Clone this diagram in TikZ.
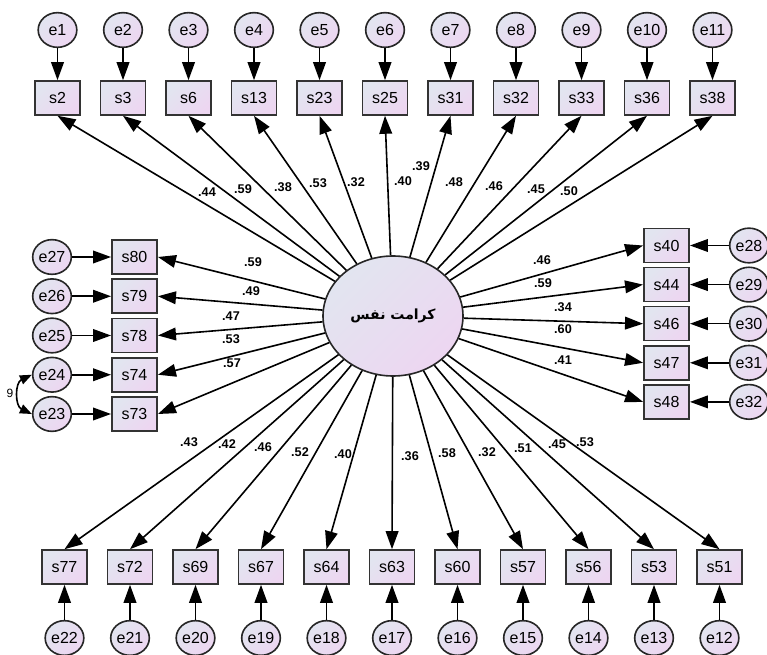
\documentclass[tikz,border=0pt]{standalone}
\usepackage{fontspec}
\setmainfont{Liberation Sans}
\newfontfamily\arabicfont[Script=Arabic]{DejaVu Sans}
\TeXXeTstate=1
\usetikzlibrary{arrows.meta,shapes.geometric}

\definecolor{shadeA}{RGB}{226,229,240}
\definecolor{shadeB}{RGB}{237,214,241}
\tikzset{
	obs/.style={draw=black!80, line width=1.2pt, minimum width=34pt, minimum height=25.5pt, inner sep=0pt,
		top color=shadeA, bottom color=shadeB, shading angle=45, font=\fontsize{12}{14}\selectfont},
	err/.style={ellipse, draw=black!85, line width=1.2pt, minimum width=29pt, minimum height=26pt, inner sep=0pt,
		top color=shadeA, bottom color=shadeB, shading angle=45, font=\fontsize{12}{14}\selectfont},
	lat/.style={ellipse, draw=black!85, line width=1.2pt, minimum width=105pt, minimum height=90pt,
		top color=shadeA, bottom color=shadeB, shading angle=45},
	path/.style={-{Triangle[length=13.5pt,width=9.5pt]}, line width=1.2pt},
	cov/.style={{Triangle[length=9pt,width=7pt]}-{Triangle[length=9pt,width=7pt]}, line width=1.2pt},
	lbl/.style={font=\fontsize{9.5}{11}\selectfont\bfseries, inner sep=0pt},
}

\begin{document}
\begin{tikzpicture}[x=0.75pt, y=-0.75pt]
		%%%%% START %%%%%
		\useasboundingbox (0,0) rectangle (767,655);
		
		\node[lat] (self) at (393,316) {\arabicfont\bfseries\fontsize{10.5}{12}\selectfont\beginR كرامت نفس\endR};
		
		% top row
		\foreach \s/\e/\v/\lx/\ly [count=\i from 0] in {s2/e1/.44/207/192, s3/e2/.59/243/189, s6/e3/.38/283/187,
			s13/e4/.53/318/183, s23/e5/.32/356/182, s25/e6/.40/403/181, s31/e7/.39/421/166, s32/e8/.48/454/182,
			s33/e9/.46/494/186, s36/e10/.45/536/189, s38/e11/.50/569/191}{
			\node[obs] (\s) at ({57.5+65.5*\i},98) {\s};
			\node[err] (\e) at ({57.5+65.5*\i},30) {\e};
			\draw[path] (\e) -- (\s);
			\draw[path] (self) -- (\s.south);
			\node[lbl] at (\lx,\ly) {\v};
		}
		
		% bottom row
		\foreach \s/\e/\v/\lx/\ly [count=\i from 0] in {s77/e22/.43/189/442, s72/e21/.42/227/444, s69/e20/.46/263/447,
			s67/e19/.52/300/452, s64/e18/.40/343/454, s63/e17/.36/410/456, s60/e16/.58/447/453, s57/e15/.32/487/452,
			s56/e14/.51/523/448, s53/e13/.45/557/444, s51/e12/.53/585/442}{
			\node[obs] (\s) at ({64.5+65.5*\i},567) {\s};
			\node[err] (\e) at ({64.5+65.5*\i},638) {\e};
			\draw[path] (\e) -- (\s);
			\draw[path] (self) -- (\s.north);
			\node[lbl] at (\lx,\ly) {\v};
		}
		
		% left column
		\foreach \s/\e/\v/\lx/\ly [count=\i from 0] in {s80/e27/.59/253/262, s79/e26/.49/251/291, s78/e25/.47/231/316,
			s74/e24/.53/231/339, s73/e23/.57/232/363}{
			\node[obs] (\s) at (134.5,{257+39.25*\i}) {\s};
			\node[err] (\e) at (52,{257+39.25*\i}) {\e};
			\draw[path] (\e) -- (\s);
			\draw[path] (self) -- (\s.east);
			\node[lbl] at (\lx,\ly) {\v};
		}
		
		% right column
		\foreach \s/\e/\v/\lx/\ly [count=\i from 0] in {s40/e28/.46/542/260, s44/e29/.59/543/283, s46/e30/.34/563/307,
			s47/e31/.60/563/329, s48/e32/.41/563/360}{
			\node[obs] (\s) at (666.5,{245.5+39.1*\i}) {\s};
			\node[err] (\e) at (749,{245.5+39.1*\i}) {\e};
			\draw[path] (\e) -- (\s);
			\draw[path] (self) -- (\s.west);
			\node[lbl] at (\lx,\ly) {\v};
		}
		
		% covariance e24 - e23
		\draw[cov] (e24.west) .. controls +(-17,8) and +(-17,-8) .. (e23.west);
		\node[font=\fontsize{9}{10}\selectfont, inner sep=0pt] (r) at (10,393) {9};
		%%%%% END %%%%%
\end{tikzpicture}
\end{document}
